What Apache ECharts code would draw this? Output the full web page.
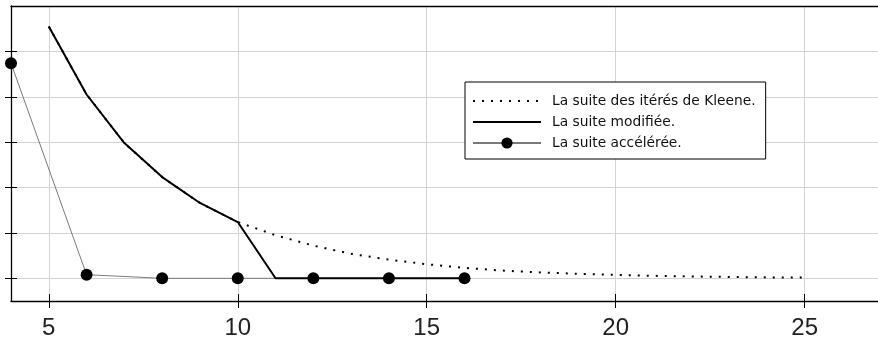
<!DOCTYPE html>
<html><head><meta charset="utf-8">
<script src="https://cdn.jsdelivr.net/npm/echarts@6/dist/echarts.min.js"></script>
<style>html,body{margin:0;padding:0;background:#fff}#c{width:878px;height:338px}</style>
</head><body><div id="c"></div>
<script>
const xTicks = [5, 10, 15, 20, 25];
const yTicks = [0, 1, 2, 3, 4, 5];
const kleeneX = [5,6,7,8,9,10,11,12,13,14,15,16,17,18,19,20,21,22,23,24,25];
const kleeneY = [5.55,4.05,2.98,2.23,1.66,1.24,0.95,0.72,0.54,0.41,0.31,0.23,0.17,0.13,0.10,0.075,0.055,0.04,0.03,0.02,0.015];
const modX = [5,6,7,8,9,10,11,12,13,14,15,16];
const modY = [5.55,4.05,2.98,2.23,1.66,1.24,0,0,0,0,0,0];
const accX = [4,6,8,10,12,14,16];
const accY = [4.74,0.08,0,0,0,0,0];
const names = ['La suite des itérés de Kleene.', 'La suite modifiée.', 'La suite accélérée.'];

const zip = (a,b) => a.map((v,i)=>[v,b[i]]);
const font = 'DejaVu Sans';
const tickFont = 'Liberation Sans';
const chart = echarts.init(document.getElementById('c'));
const baseX = {type:'value', min:4, max:27.1, position:'bottom', gridIndex:0};
const baseY = {type:'value', min:-0.5, max:6, position:'left', gridIndex:0};
chart.setOption({
  animation:false,
  grid:{left:11, top:6, right:-6, bottom:37, show:false, outerBoundsMode:'none', containLabel:false},
  xAxis:[
    Object.assign({}, baseX, {
      axisLine:{show:true, onZero:false, lineStyle:{color:'#000', width:1.3}},
      axisTick:{show:true, inside:false, length:7, lineStyle:{color:'#000', width:1}, customValues:xTicks},
      axisLabel:{show:true, customValues:xTicks, fontFamily:tickFont, fontSize:24, color:'#222', margin:15},
      splitLine:{show:true, lineStyle:{color:'#d3d3d3', width:1}}
    }),
    Object.assign({}, baseX, {
      axisLine:{show:false, onZero:false},
      axisTick:{show:true, inside:true, length:7, lineStyle:{color:'#000', width:1}, customValues:xTicks},
      axisLabel:{show:false}, splitLine:{show:false}
    }),
    Object.assign({}, baseX, {
      position:'top',
      axisLine:{show:true, onZero:false, lineStyle:{color:'#000', width:1.3}},
      axisTick:{show:false}, axisLabel:{show:false}, splitLine:{show:false}
    })
  ],
  yAxis:[
    Object.assign({}, baseY, {
      axisLine:{show:true, onZero:false, lineStyle:{color:'#000', width:1.3}},
      axisTick:{show:true, inside:false, length:6, lineStyle:{color:'#000', width:1}, customValues:yTicks},
      axisLabel:{show:false},
      splitLine:{show:true, lineStyle:{color:'#d3d3d3', width:1}}
    }),
    Object.assign({}, baseY, {
      axisLine:{show:false, onZero:false},
      axisTick:{show:true, inside:true, length:6, lineStyle:{color:'#000', width:1}, customValues:yTicks},
      axisLabel:{show:false}, splitLine:{show:false}
    })
  ],
  legend:{
    data:[
      {name:names[0], itemStyle:{opacity:0}},
      {name:names[1], itemStyle:{opacity:0}},
      {name:names[2]}
    ],
    orient:'vertical', left:465, top:82, itemWidth:68, itemHeight:14, itemGap:7,
    padding:[12,10,9,7], backgroundColor:'#fff', borderColor:'#000', borderWidth:1,
    textStyle:{fontFamily:font, fontSize:13.8, color:'#111', padding:[0,0,0,6]},
    selectedMode:false
  },
  series:[
    {name:names[0], type:'line', data:zip(kleeneX,kleeneY), symbol:'none', z:2,
     lineStyle:{color:'#000', width:2, type:[2,7], cap:'butt'}, itemStyle:{color:'#000'}},
    {name:names[2], type:'line', data:zip(accX,accY), symbol:'circle', symbolSize:12, z:3,
     lineStyle:{color:'#7a7a7a', width:1}, itemStyle:{color:'#000'}},
    {name:names[1], type:'line', data:zip(modX,modY), symbol:'none', z:4,
     lineStyle:{color:'#000', width:2}, itemStyle:{color:'#000'}}
  ]
});
</script></body></html>
